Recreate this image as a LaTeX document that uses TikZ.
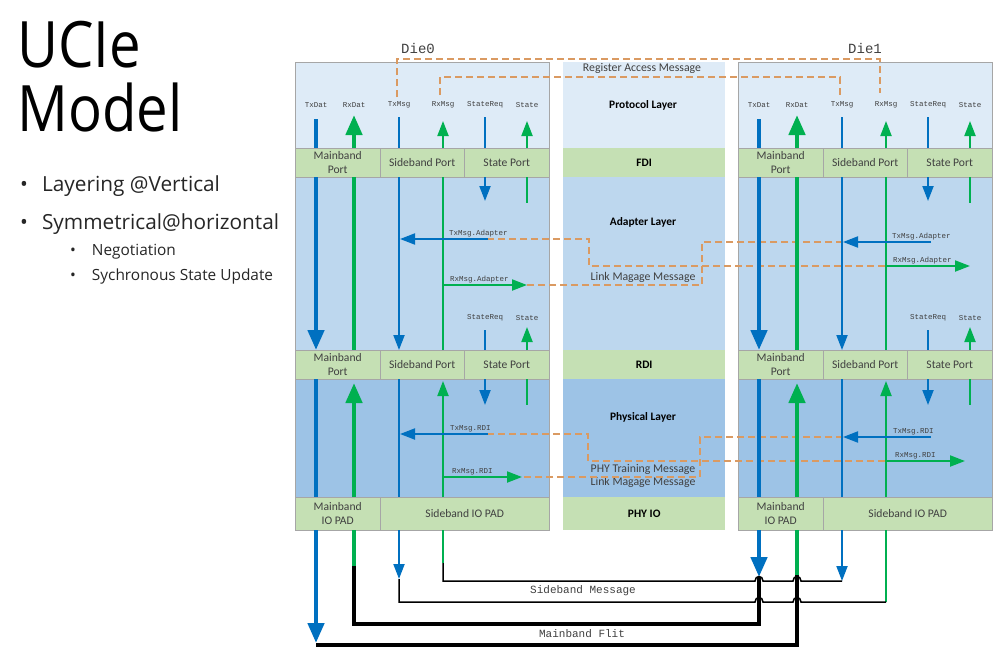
\documentclass[tikz,border=0pt]{standalone}
\usepackage{fontspec}
\setmainfont{Carlito}
\newfontfamily\slideFont{Open Sans}
\newfontfamily\monoFont{Liberation Mono}
\usetikzlibrary{arrows.meta}

\definecolor{sigBlue}{HTML}{0070C0}
\definecolor{sigGreen}{HTML}{00B050}
\definecolor{bandGreen}{HTML}{C5E0B4}
\definecolor{protoBlue}{HTML}{DEEBF7}
\definecolor{adaptBlue}{HTML}{BDD7EE}
\definecolor{phyBlue}{HTML}{9DC3E6}
\definecolor{linkOrange}{HTML}{DA9A62}
\definecolor{textGray}{HTML}{404040}

\begin{document}
\begin{tikzpicture}[x=1pt,y=-1pt,%%
  portStyle/.style={draw=gray!70,fill=bandGreen,minimum height=29pt,inner sep=0pt,align=center,font=\fontsize{11.6}{13.5}\selectfont,text=textGray,anchor=north west},%%
  midStyle/.style={fill=bandGreen,minimum width=162pt,minimum height=29pt,inner sep=0pt,anchor=north west,font=\bfseries\fontsize{11.4}{13}\selectfont},%%
  layerLabel/.style={font=\bfseries\fontsize{11.4}{13}\selectfont,inner sep=1pt},%%
  msgLabel/.style={font=\fontsize{11.8}{13}\selectfont,text=textGray,inner sep=1pt,align=center},%%
  sigLabel/.style={font=\monoFont\fontsize{7.5}{8}\selectfont,inner sep=0pt,text=textGray},%%
  monoLabel/.style={font=\monoFont\fontsize{11}{12}\selectfont,inner sep=1pt,text=textGray},%%
  slideText/.style={anchor=base west,inner sep=0pt,text=black!85},%%
  datBlue/.style={draw=sigBlue,line width=4.5pt},%%
  datGreen/.style={draw=sigGreen,line width=4.5pt},%%
  msgBlue/.style={draw=sigBlue,line width=2pt},%%
  msgGreen/.style={draw=sigGreen,line width=2pt},%%
  bigTip/.style={-{Triangle[width=16pt,length=20pt]}},%%
  smallTip/.style={-{Triangle[width=11pt,length=15pt]}},%%
  linkStyle/.style={draw=linkOrange,line width=1.6pt,dash pattern=on 7pt off 4pt},%%
  wireThick/.style={draw=black,line width=4pt},%%
  wireThin/.style={draw=black,line width=1.5pt}%%
]
%%
\fill[white] (0,0) rectangle (1008,664);
\useasboundingbox (0,0) rectangle (1008,664);
%%
%% Title and bullets on the left.
\node[slideText,text=black,font=\slideFont\fontsize{64}{64}\selectfont] (titleTop) at (17,67) {\scalebox{0.88}[1]{UCIe}};
\node[slideText,text=black,font=\slideFont\fontsize{64}{64}\selectfont] (titleBot) at (17,131) {\scalebox{0.88}[1]{Model}};
\node[slideText,font=\slideFont\fontsize{20.8}{22}\selectfont] (bulletA) at (20,191) {\textbullet\hspace{14pt}Layering @Vertical};
\node[slideText,font=\slideFont\fontsize{20.8}{22}\selectfont] (bulletB) at (20,229) {\textbullet\hspace{14pt}Symmetrical@horizontal};
\node[slideText,font=\slideFont\fontsize{15.4}{16}\selectfont] (subA) at (70,255) {\textbullet\hspace{16pt}Negotiation};
\node[slideText,font=\slideFont\fontsize{15.4}{16}\selectfont] (subB) at (70,280) {\textbullet\hspace{16pt}Sychronous State Update};
%%
%% The two dies: layer fills and port bands.
\foreach \d/\L in {A/295,B/738}{
  \fill[protoBlue] (\L,62) rectangle ++(254,86);
  \fill[adaptBlue] (\L,177) rectangle ++(254,173);
  \fill[phyBlue] (\L,379) rectangle ++(254,118);
  \draw[gray!70] (\L,62) rectangle ++(254,468);
  %% FDI side ports
  \node[portStyle,minimum width=85pt] (mbFdi\d) at (\L,148) {Mainband\\Port};
  \node[portStyle,minimum width=84pt] (sbFdi\d) at (\L+85,148) {Sideband Port};
  \node[portStyle,minimum width=85pt] (stFdi\d) at (\L+169,148) {State Port};
  %% RDI side ports
  \node[portStyle,minimum width=85pt] (mbRdi\d) at (\L,350) {Mainband\\Port};
  \node[portStyle,minimum width=84pt] (sbRdi\d) at (\L+85,350) {Sideband Port};
  \node[portStyle,minimum width=85pt] (stRdi\d) at (\L+169,350) {State Port};
  %% IO pads
  \node[portStyle,minimum width=85pt,minimum height=33pt] (mbPad\d) at (\L,497) {Mainband\\IO PAD};
  \node[portStyle,minimum width=169pt,minimum height=33pt] (sbPad\d) at (\L+85,497) {Sideband IO PAD};
}
\node[monoLabel,font=\monoFont\fontsize{14}{15}\selectfont] (dieA) at (418,48) {Die0};
\node[monoLabel,font=\monoFont\fontsize{14}{15}\selectfont] (dieB) at (865,48) {Die1};
%%
%% The middle column of layer names.
\fill[protoBlue] (563,62) rectangle (725,148);
\node[midStyle] (fdi) at (563,148) {FDI};
\fill[adaptBlue] (563,177) rectangle (725,350);
\node[midStyle] (rdi) at (563,350) {RDI};
\fill[phyBlue] (563,379) rectangle (725,497);
\node[midStyle,minimum height=33pt] (phyIo) at (563,497) {PHY IO};
\node[layerLabel] (protoLbl) at (643,105) {Protocol Layer};
\node[layerLabel] (adaptLbl) at (643,222) {Adapter Layer};
\node[layerLabel] (phyLbl) at (643,417) {Physical Layer};
\node[msgLabel] (regMsg) at (642,68) {Register Access Message};
\node[msgLabel] (linkMsg) at (643,277) {Link Magage Message};
\node[msgLabel] (phyMsg) at (643,476) {PHY Training Message\\Link Magage Message};
%%
%% Dashed message paths between the dies.  Must draw before signals.
\draw[linkStyle] (397,97) -- (397,59) -- (880,59) -- (880,93);
\draw[linkStyle] (440,95) -- (440,77) -- (840,77) -- (840,97);
\draw[linkStyle] (487,239) -- (589,239) -- (589,266) -- (886,266);
\draw[linkStyle] (843,242) -- (702,242) -- (702,285) -- (527,285);
\draw[linkStyle] (487,434) -- (588,434) -- (588,461) -- (886,461);
\draw[linkStyle] (843,437) -- (700,437) -- (700,477) -- (522,477);
%%
%% Signals of each die.
\foreach \d/\L/\ta/\ra/\tr/\rr in {A/295/239/285/434/477,B/738/242/266/437/461}{
  %% signal names
  \node[sigLabel] (txDat\d) at (\L+21,105) {TxDat};
  \node[sigLabel] (rxDat\d) at (\L+59,105) {RxDat};
  \node[sigLabel] (txMsg\d) at (\L+104,105) {TxMsg};
  \node[sigLabel] (rxMsg\d) at (\L+148,105) {RxMsg};
  \node[sigLabel] (stReq\d) at (\L+190,105) {StateReq};
  \node[sigLabel] (state\d) at (\L+232,105) {State};
  \node[sigLabel] (stReqLow\d) at (\L+190,318) {StateReq};
  \node[sigLabel] (stateLow\d) at (\L+232,318) {State};
  %% protocol layer
  \draw[datBlue] (\L+21,119) -- (\L+21,148);
  \draw[datGreen,bigTip] (\L+59,148) -- (\L+59,115);
  \draw[msgBlue] (\L+104,117) -- (\L+104,148);
  \draw[msgGreen,smallTip] (\L+148,148) -- (\L+148,121);
  \draw[msgBlue] (\L+190,117) -- (\L+190,148);
  \draw[msgGreen,smallTip] (\L+232,148) -- (\L+232,121);
  %% adapter layer
  \draw[datBlue,bigTip] (\L+21,177) -- (\L+21,350);
  \draw[datGreen] (\L+59,177) -- (\L+59,350);
  \draw[msgBlue,smallTip] (\L+104,177) -- (\L+104,350);
  \draw[msgGreen] (\L+148,177) -- (\L+148,350);
  \draw[msgBlue,smallTip] (\L+190,177) -- (\L+190,201);
  \draw[msgGreen] (\L+232,177) -- (\L+232,203);
  \draw[msgBlue] (\L+190,330) -- (\L+190,350);
  \draw[msgGreen,smallTip] (\L+232,350) -- (\L+232,327);
  \draw[msgBlue,smallTip] (\L+193,\ta) -- (\L+105,\ta);
  \draw[msgGreen,smallTip] (\L+148,\ra) -- (\L+232,\ra);
  \node[sigLabel,anchor=base west] (txAd\d) at (\L+154,\ta-4) {TxMsg.Adapter};
  \node[sigLabel,anchor=base west] (rxAd\d) at (\L+155,\ra-4) {RxMsg.Adapter};
  %% physical layer
  \draw[datBlue] (\L+21,379) -- (\L+21,497);
  \draw[datGreen,bigTip] (\L+59,497) -- (\L+59,383);
  \draw[msgBlue] (\L+104,379) -- (\L+104,497);
  \draw[msgGreen,smallTip] (\L+148,497) -- (\L+148,381);
  \draw[msgBlue,smallTip] (\L+190,379) -- (\L+190,405);
  \draw[msgGreen] (\L+232,379) -- (\L+232,405);
  \draw[msgBlue,smallTip] (\L+193,\tr) -- (\L+105,\tr);
  \draw[msgGreen,smallTip] (\L+148,\rr) -- (\L+227,\rr);
  \node[sigLabel,anchor=base west] (txRdi\d) at (\L+155,\tr-4) {TxMsg.RDI};
  \node[sigLabel,anchor=base west] (rxRdi\d) at (\L+157,\rr-4) {RxMsg.RDI};
}
%%
%% Wires between the IO pads.
\draw[datBlue,bigTip] (316,530) -- (316,643);
\draw[datGreen] (354,530) -- (354,566);
\draw[wireThick] (354,566) -- (354,624) -- (759,624) -- (759,577);
\draw[datBlue,bigTip] (759,530) -- (759,577);
\draw[datGreen] (797,530) -- (797,575);
\draw[wireThick] (797,575) -- (797,645) -- (316,645);
%%
\draw[msgBlue,smallTip] (399,530) -- (399,579);
\draw[msgGreen] (443,530) -- (443,563);
\draw[msgBlue,smallTip] (842,530) -- (842,581);
\draw[msgGreen] (886,530) -- (886,602);
\draw[wireThin] (443,563) -- (443,581) -- (755,581) .. controls (755,575) and (763,575) .. (763,581)
  -- (793,581) .. controls (793,575) and (801,575) .. (801,581) -- (842,581);
\draw[wireThin] (399,579) -- (399,602) -- (755,602) .. controls (755,596) and (763,596) .. (763,602)
  -- (793,602) .. controls (793,596) and (801,596) .. (801,602) -- (886,602);
\node[monoLabel] (sbMsg) at (583,591) {Sideband Message};
\node[monoLabel] (mbFlit) at (582,634) {Mainband Flit};
\end{tikzpicture}
\end{document}
